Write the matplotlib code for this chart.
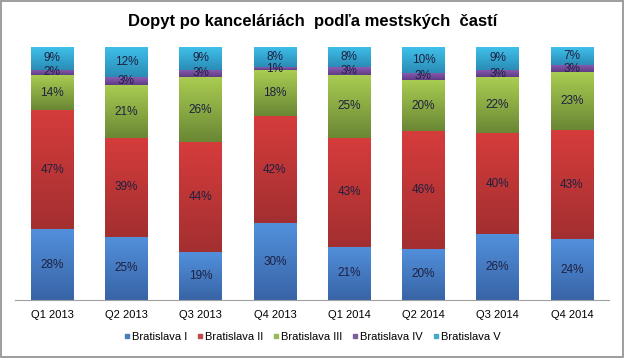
import numpy as np
import matplotlib.pyplot as plt
from matplotlib.colors import LinearSegmentedColormap
from matplotlib.lines import Line2D
from matplotlib.patches import Rectangle

plt.rcParams['font.family'] = ['Liberation Sans', 'DejaVu Sans']

quarters = ['Q1 2013', 'Q2 2013', 'Q3 2013', 'Q4 2013',
            'Q1 2014', 'Q2 2014', 'Q3 2014', 'Q4 2014']
series = ['Bratislava I', 'Bratislava II', 'Bratislava III', 'Bratislava IV', 'Bratislava V']

bratislava_1 = [28, 25, 19, 30, 21, 20, 26, 24]
bratislava_2 = [47, 39, 44, 42, 43, 46, 40, 43]
bratislava_3 = [14, 21, 26, 18, 25, 20, 22, 23]
bratislava_4 = [2, 3, 3, 1, 3, 3, 3, 3]
bratislava_5 = [9, 12, 9, 8, 8, 10, 9, 7]

# (top colour, bottom colour) of each gradient fill, plus legend swatch
top_colors = ['#5290dc', '#d63c3c', '#aacd52', '#8a5cb0', '#3fc0ea']
bottom_colors = ['#3864a6', '#a32f30', '#6a8734', '#5e3d86', '#2a8cb6']
legend_colors = ['#4a7ebb', '#be4b48', '#98b954', '#7d60a0', '#46aac5']

values = np.array([bratislava_1, bratislava_2, bratislava_3, bratislava_4, bratislava_5], dtype=float)
shares = values / values.sum(axis=0) * 100  # 100% stacked, like Excel

fig = plt.figure(figsize=(6.25, 3.58), dpi=100)
fig.patches.append(Rectangle((0.002, 0.003), 0.995, 0.993, transform=fig.transFigure,
                             fill=False, edgecolor='#8c8c8c', linewidth=1.2))
ax = fig.add_axes([0.024, 0.162, 0.9504, 0.7067])

x = np.arange(len(quarters))
width = 0.57
grad = np.linspace(0, 1, 100).reshape(-1, 1)
bottom = np.zeros(len(quarters))
for i, name in enumerate(series):
    bars = ax.bar(x, shares[i], width, bottom=bottom, color=top_colors[i], linewidth=0)
    cmap = LinearSegmentedColormap.from_list(name, [bottom_colors[i], top_colors[i]])
    for b, bar in enumerate(bars):
        im = ax.imshow(grad, cmap=cmap, aspect='auto', origin='lower',
                       extent=[x[b] - width / 2, x[b] + width / 2,
                               bottom[b], bottom[b] + shares[i][b]], zorder=2)
        im.set_clip_path(bar)
        ax.text(x[b], bottom[b] + shares[i][b] / 2, '%d%%' % values[i][b],
                ha='center', va='center', fontsize=8.5, color='#1e2040', zorder=3)
    bottom += shares[i]

ax.set_xlim(-0.5, len(quarters) - 0.5)
ax.set_ylim(0, 100)
ax.set_xticks(x)
ax.set_xticklabels(quarters, fontsize=8)
ax.tick_params(axis='x', length=0, pad=7)
ax.set_yticks([])
for side in ['left', 'right', 'top']:
    ax.spines[side].set_visible(False)
ax.spines['bottom'].set_color('#a0a0a0')

fig.text(0.5, 0.94, 'Dopyt po kanceláriách  podľa mestských  častí',
         ha='center', va='center', fontsize=12, fontweight='bold')

handles = [Line2D([], [], marker='s', linestyle='', markersize=3.5, color=c) for c in legend_colors]
fig.legend(handles, series, loc='center', bbox_to_anchor=(0.5, 0.058), ncol=5, frameon=False,
           fontsize=8, handlelength=0.5, handletextpad=0.2, columnspacing=0.9)

fig.savefig('out.png', dpi=100)
